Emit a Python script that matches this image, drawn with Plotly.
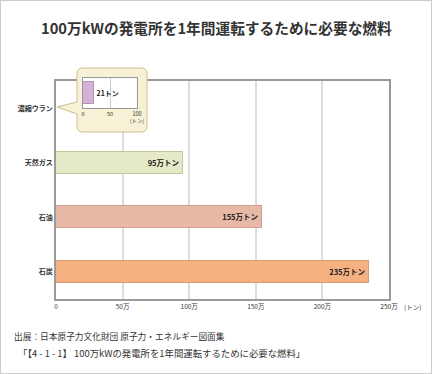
import plotly.graph_objects as go

# ---- data ----
categories = ["濃縮ウラン", "天然ガス", "石油", "石炭"]
amounts_t = [21, 950000, 1550000, 2350000]          # トン / 年
value_labels = ["21トン", "95万トン", "155万トン", "235万トン"]
fills = ["#d5b0d7", "#e6e9c7", "#e9b9a8", "#f5b181"]
edges = ["#b592ba", "#c4c69c", "#cf9d8d", "#dc9a6c"]
main_ticks = [0, 500000, 1000000, 1500000, 2000000, 2500000]
main_ticktext = ["0", "50万", "100万", "150万", "200万", "250万"]
inset_ticks = [0, 50, 100]
inset_ticktext = ["0", "50", "100<br>(トン)"]

W, H = 432, 374
FONT = "Noto Sans CJK JP"
TXT = "#333333"

def fx(px):
    return px / W

def fy(py):
    return 1 - py / H

fig = go.Figure()

# main chart (uranium's bar is negligible here; it is shown in the inset)
fig.add_trace(go.Bar(
    x=amounts_t, y=categories, orientation="h",
    marker=dict(color=fills, line=dict(color=edges, width=1)),
    width=0.4,
    text=[""] + value_labels[1:], textposition="inside", insidetextanchor="end",
    textfont=dict(family=FONT, size=7.5, color="#222222", weight="bold"),
    cliponaxis=False, hoverinfo="skip",
    xaxis="x", yaxis="y",
))

# overlay layer holding the callout decoration
fig.add_trace(go.Scatter(x=[None], y=[None], xaxis="x2", yaxis="y2",
                         showlegend=False, hoverinfo="skip"))

# inset for uranium
fig.add_trace(go.Bar(
    x=amounts_t[:1], y=categories[:1], orientation="h",
    marker=dict(color=fills[0], line=dict(color=edges[0], width=1)),
    width=0.72,
    text=value_labels[:1], textposition="outside",
    textfont=dict(family=FONT, size=7, color="#222222", weight="bold"),
    cliponaxis=False, hoverinfo="skip",
    xaxis="x3", yaxis="y3",
))

callout = ("M 83,68 L 141,68 Q 147,68 147,74 L 147,126 Q 147,132 141,132 "
           "L 83,132 Q 77,132 77,126 L 77,114 L 57,107 L 77,102 L 77,74 "
           "Q 77,68 83,68 Z")

shapes = [
    dict(type="path", path=callout, xref="x2", yref="y2", layer="below",
         fillcolor="#f7f1d6", line=dict(color="#cdbf95", width=1)),
    dict(type="rect", x0=83, x1=137, y0=78, y1=108, xref="x2", yref="y2",
         layer="below", fillcolor="#ffffff", line=dict(width=0)),
    dict(type="rect", x0=0, x1=1, y0=0, y1=1, xref="paper", yref="paper",
         layer="above", line=dict(color="#cccccc", width=2)),
]

annotations = [
    dict(text="100万kWの発電所を1年間運転するために必要な燃料",
         x=0.5, y=fy(28), xref="paper", yref="paper", showarrow=False,
         xanchor="center", yanchor="middle",
         font=dict(family=FONT, size=14.7, color=TXT, weight="bold")),
    dict(text="(トン)", x=fx(402), y=fy(307), xref="paper", yref="paper",
         showarrow=False, xanchor="left", yanchor="middle",
         font=dict(family=FONT, size=6.5, color=TXT)),
    dict(text="出展：日本原子力文化財団 原子力・エネルギー図面集",
         x=fx(12), y=fy(336), xref="paper", yref="paper", showarrow=False,
         xanchor="left", yanchor="middle",
         font=dict(family=FONT, size=8.7, color=TXT)),
    dict(text="「【4 - 1 - 1】 100万kWの発電所を1年間運転するために必要な燃料」",
         x=fx(16), y=fy(353), xref="paper", yref="paper", showarrow=False,
         xanchor="left", yanchor="middle",
         font=dict(family=FONT, size=9.4, color=TXT)),
]

fig.update_layout(
    width=W, height=H,
    margin=dict(l=0, r=0, t=0, b=0, autoexpand=False),
    paper_bgcolor="#ffffff", plot_bgcolor="rgba(0,0,0,0)",
    showlegend=False, bargap=0,
    shapes=shapes, annotations=annotations,
    font=dict(family=FONT, color=TXT),
    xaxis=dict(domain=[fx(56), fx(389)], range=[0, 2500000],
               tickvals=main_ticks, ticktext=main_ticktext,
               tickfont=dict(family=FONT, size=6.5, color=TXT),
               showgrid=True, gridcolor="#dddddd", gridwidth=1.5,
               showline=True, linecolor="#9a9a9a", linewidth=1.5, mirror=True,
               zeroline=False, ticks="", anchor="y", fixedrange=True,
               automargin=False),
    yaxis=dict(domain=[fy(299), fy(81)], type="category",
               categoryorder="array", categoryarray=categories,
               autorange="reversed",
               tickfont=dict(family=FONT, size=7, color=TXT, weight="bold"),
               showgrid=False, showline=True, linecolor="#9a9a9a",
               linewidth=1.5, mirror=True, ticks="", anchor="x",
               fixedrange=True, automargin=False),
    xaxis2=dict(domain=[0, 1], range=[0, W], visible=False, anchor="y2",
                fixedrange=True, automargin=False),
    yaxis2=dict(domain=[0, 1], range=[H, 0], visible=False, anchor="x2",
                fixedrange=True, automargin=False),
    xaxis3=dict(domain=[fx(83), fx(137)], range=[0, 100],
                tickvals=inset_ticks, ticktext=inset_ticktext,
                tickfont=dict(family=FONT, size=5.5, color=TXT),
                showgrid=True, gridcolor="#cccccc", gridwidth=1,
                showline=True, linecolor="#999999", linewidth=1, mirror=True,
                zeroline=False, ticks="", anchor="y3", fixedrange=True,
                automargin=False),
    yaxis3=dict(domain=[fy(108), fy(78)], range=[-0.5, 0.5],
                showticklabels=False, showgrid=False,
                showline=True, linecolor="#999999", linewidth=1, mirror=True,
                ticks="", anchor="x3", fixedrange=True, automargin=False),
)

fig.write_html("out.html", config={"displayModeBar": False},
               post_script="document.body.style.margin='0';"
                           "document.body.style.overflow='hidden';")
